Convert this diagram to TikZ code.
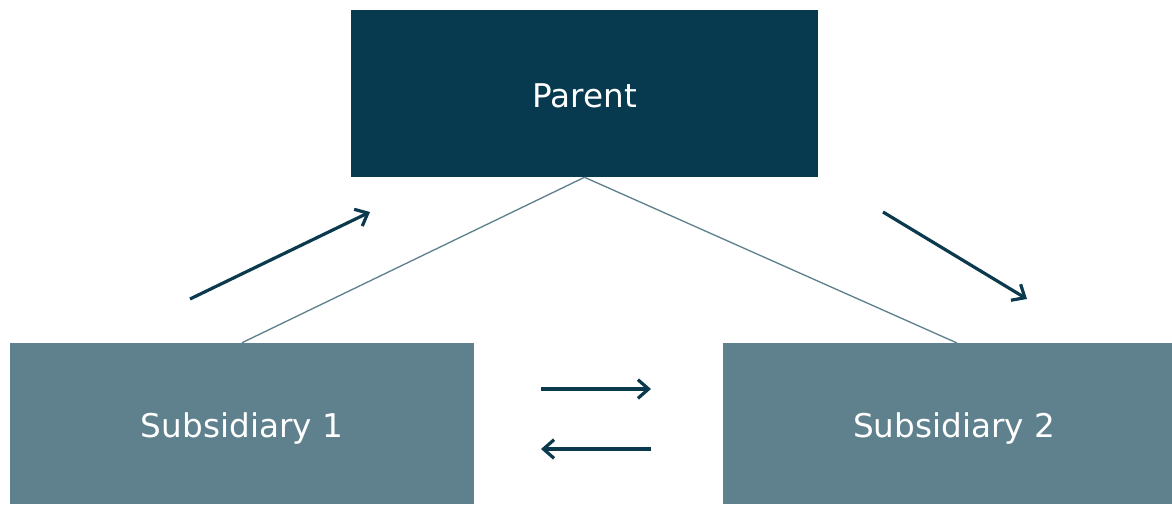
\documentclass[tikz,border=0pt]{standalone}
\usepackage{fontspec}
\setmainfont{DejaVu Sans}
\usetikzlibrary{positioning,arrows.meta}
\definecolor{parentblue}{HTML}{083A4F}
\definecolor{subgrey}{HTML}{5F818D}
\definecolor{arrowblue}{HTML}{0B3A4F}

\begin{document}
\begin{tikzpicture}[x=0.75pt, y=-0.75pt,
							entitybox/.style = {inner sep=0pt},
							entitytext/.style = {text=white, font=\fontsize{24.5}{29}\selectfont},
							flowarrow/.style = {-{Straight Barb[length=8pt, width=14pt]}, arrowblue, line width=2.4pt},
							linkline/.style = {subgrey, line width=1pt}
						]
						\useasboundingbox (0,0) rectangle (1172,504);
						\node[entitybox, fill=parentblue, minimum width=350.25pt, minimum height=125.25pt,
							label={[entitytext, name=parenttext, yshift=-2pt]center:Parent}] (parent) at (584.5,93.5) {};
						\node[entitybox, fill=subgrey, minimum width=348pt, minimum height=120.75pt,
							label={[entitytext, name=sub1text, yshift=-4pt]center:Subsidiary 1}] (sub1) at (242,423.5) {};
						\node[entitybox, fill=subgrey, minimum width=336.75pt, minimum height=120.75pt,
							label={[entitytext, name=sub2text, yshift=-4pt, xshift=5pt]center:Subsidiary 2}] (sub2) at (947.5,423.5) {};
						% ownership lines
						\coordinate (top2) at (957,343);
						\draw[linkline] (parent.south) -- (sub1.north);
						\draw[linkline] (parent.south) -- (top2);
						% flows
						\coordinate (a1) at (190,299); \coordinate (b1) at (370,212);
						\coordinate (a2) at (883,212); \coordinate (b2) at (1027,299);
						\coordinate (a3) at (541,389); \coordinate (b3) at (651,389);
						\coordinate (a4) at (651,449); \coordinate (b4) at (541,449);
						\foreach \s/\e in {a1/b1, a2/b2, a3/b3, a4/b4}{ \draw[flowarrow] (\s) -- (\e);}
					\end{tikzpicture}
\end{document}
